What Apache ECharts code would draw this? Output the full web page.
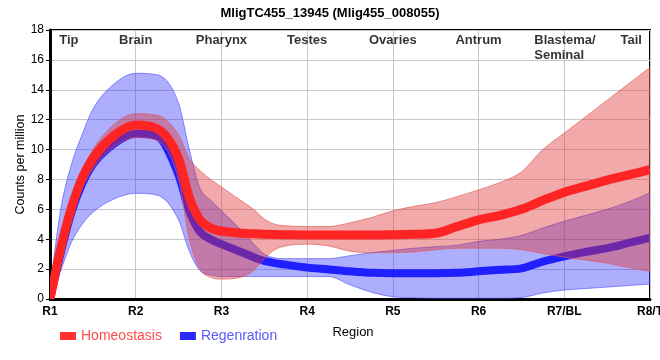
<!DOCTYPE html>
<html><head><meta charset="utf-8">
<script src="https://cdn.jsdelivr.net/npm/echarts/dist/echarts.min.js"></script>
<style>html,body{margin:0;padding:0;background:#fff}#c{width:660px;height:360px}</style>
</head><body><div id="c"></div>
<script>
// ---------------- data ----------------
const chartTitle = 'MligTC455_13945 (Mlig455_008055)';
const xLabels = ['R1', 'R2', 'R3', 'R4', 'R5', 'R6', 'R7/BL', 'R8/T'];
const positions = [1, 1.125, 1.25, 1.375, 1.5, 1.75, 2, 2.25, 2.5, 2.625, 2.75, 2.875, 3, 3.25, 3.375, 3.5, 3.625, 3.75, 4, 4.25, 4.5, 4.75, 5, 5.25, 5.5, 5.75, 6, 6.25, 6.5, 6.75, 7, 7.25, 7.5, 7.75, 8];
const homeostasis = [0, 3.4, 6.1, 8.1, 9.4, 10.95, 11.65, 11.4, 9.4, 6.8, 5.3, 4.75, 4.55, 4.4, 4.36, 4.33, 4.31, 4.3, 4.28, 4.28, 4.28, 4.28, 4.3, 4.33, 4.4, 4.85, 5.3, 5.6, 6.0, 6.6, 7.15, 7.55, 7.95, 8.3, 8.65];
const homeostasisUpper = [0.2, 3.7, 6.5, 8.6, 10.0, 11.7, 12.4, 12.3, 11.0, 9.4, 8.6, 8.0, 7.5, 6.5, 6.0, 5.35, 5.0, 4.9, 4.85, 4.85, 5.1, 5.45, 5.9, 6.2, 6.45, 6.85, 7.3, 7.8, 8.5, 10.0, 11.1, 12.2, 13.3, 14.4, 15.5];
const homeostasisLower = [0, 2.9, 5.5, 7.4, 8.7, 10.2, 10.8, 10.6, 8.0, 4.0, 2.0, 1.45, 1.33, 1.5, 1.9, 2.7, 3.3, 3.55, 3.67, 3.55, 3.2, 3.1, 3.1, 3.15, 3.3, 3.4, 3.4, 3.4, 3.3, 3.05, 2.8, 2.6, 2.4, 2.1, 1.85];
const regeneration = [0, 3.1, 5.8, 7.7, 9.0, 10.4, 11.05, 10.9, 8.3, 5.9, 4.5, 4.0, 3.67, 3.1, 2.8, 2.55, 2.4, 2.3, 2.1, 1.98, 1.85, 1.75, 1.72, 1.72, 1.72, 1.75, 1.85, 1.95, 2.05, 2.5, 2.85, 3.15, 3.4, 3.75, 4.1];
const regenerationUpper = [0.7, 6.0, 9.0, 11.0, 12.7, 14.4, 15.1, 15.0, 13.1, 10.0, 7.4, 6.6, 5.9, 4.5, 3.7, 3.0, 2.75, 2.7, 2.7, 2.7, 2.9, 3.1, 3.25, 3.4, 3.5, 3.6, 3.85, 4.0, 4.25, 4.75, 5.2, 5.6, 6.0, 6.5, 7.1];
const regenerationLower = [0, 1.9, 3.8, 5.0, 5.8, 6.7, 7.07, 6.95, 5.3, 3.2, 1.9, 1.6, 1.5, 1.5, 1.5, 1.5, 1.5, 1.5, 1.5, 1.5, 0.95, 0.45, 0.15, 0.08, 0.05, 0.05, 0.05, 0.05, 0.1, 0.4, 0.6, 0.7, 0.8, 0.9, 1.0];
const regionNames = ['Tip', 'Brain', 'Pharynx', 'Testes', 'Ovaries', 'Antrum', 'Blastema/\nSeminal', 'Tail'];
const regionPos = [1.22, 2, 3, 4, 5, 6, 6.65, 7.78];
const regionAlign = ['center', 'center', 'center', 'center', 'center', 'center', 'left', 'center'];
const regionLabelY = 17.8;
const dividerPos = 7.5;
const seriesNames = ['Homeostasis', 'Regenration'];

// ---------------- drawing ----------------
const FONT = "'Liberation Sans', Arial, sans-serif";

// monotone cubic (Fritsch-Carlson) bezier segments through pixel points
function segments(pts) {
  const n = pts.length, s = [], t = new Array(n);
  for (let i = 0; i < n - 1; i++) s.push((pts[i + 1][1] - pts[i][1]) / (pts[i + 1][0] - pts[i][0]));
  t[0] = s[0]; t[n - 1] = s[n - 2];
  for (let i = 1; i < n - 1; i++) t[i] = (s[i - 1] * s[i] <= 0) ? 0 : (s[i - 1] + s[i]) / 2;
  for (let i = 0; i < n - 1; i++) {
    if (s[i] === 0) { t[i] = 0; t[i + 1] = 0; continue; }
    const a = t[i] / s[i], b = t[i + 1] / s[i], q = a * a + b * b;
    if (q > 9) { const k = 3 / Math.sqrt(q); t[i] = k * a * s[i]; t[i + 1] = k * b * s[i]; }
  }
  const out = [];
  for (let i = 0; i < n - 1; i++) {
    const h = pts[i + 1][0] - pts[i][0];
    out.push([[pts[i][0] + h / 3, pts[i][1] + t[i] * h / 3], [pts[i + 1][0] - h / 3, pts[i + 1][1] - t[i + 1] * h / 3], pts[i + 1]]);
  }
  return out;
}
function curvePath(pts) {
  let d = 'M' + pts[0][0] + ',' + pts[0][1];
  segments(pts).forEach(g => { d += 'C' + g[0][0] + ',' + g[0][1] + ' ' + g[1][0] + ',' + g[1][1] + ' ' + g[2][0] + ',' + g[2][1]; });
  return d;
}
function bandRender(lower, upper, fill, stroke) {
  return function (params, api) {
    const up = positions.map((x, i) => api.coord([x, upper[i]]));
    const lo = positions.map((x, i) => api.coord([x, lower[i]]));
    const sl = segments(lo);
    let d = curvePath(up);
    const n = lo.length;
    d += 'L' + lo[n - 1][0] + ',' + lo[n - 1][1];
    for (let i = sl.length - 1; i >= 0; i--) {
      const g = sl[i], p = lo[i];
      d += 'C' + g[1][0] + ',' + g[1][1] + ' ' + g[0][0] + ',' + g[0][1] + ' ' + p[0] + ',' + p[1];
    }
    d += 'Z';
    return { type: 'path', shape: { pathData: d }, style: { fill: fill, stroke: stroke, lineWidth: 1 } };
  };
}
function lineRender(values, color, width) {
  return function (params, api) {
    const pts = positions.map((x, i) => api.coord([x, values[i]]));
    return { type: 'path', shape: { pathData: curvePath(pts) }, style: { fill: 'none', stroke: color, lineWidth: width } };
  };
}

const chart = echarts.init(document.getElementById('c'), null, { renderer: 'canvas' });
chart.setOption({
  animation: false,
  backgroundColor: '#fff',
  textStyle: { fontFamily: FONT },
  title: { text: chartTitle, left: 'center', top: 2, textStyle: { fontSize: 13, fontWeight: 'bold', color: '#000', fontFamily: FONT } },
  legend: {
    left: 55, top: 324, icon: 'rect', itemWidth: 16, itemHeight: 8, itemGap: 18,
    textStyle: { fontSize: 14, fontFamily: FONT },
    data: [
      { name: seriesNames[0], itemStyle: { color: '#ff3333' }, textStyle: { color: '#ff4d4d' } },
      { name: seriesNames[1], itemStyle: { color: '#2a2aff' }, textStyle: { color: '#5a5aff' } }
    ]
  },
  grid: { left: 50, right: 10, top: 30, bottom: 61, show: true, borderColor: '#000', borderWidth: 2,
    containLabel: false, outerBoundsMode: 'none' },
  xAxis: {
    type: 'value', min: 1, max: 8, interval: 1,
    name: 'Region', nameLocation: 'middle', nameGap: 27, nameMoveOverlap: false,
    nameTextStyle: { fontSize: 13, color: '#000', fontFamily: FONT, padding: [0, 0, 0, 6] },
    axisLine: { show: true, lineStyle: { color: '#000', width: 3 } },
    axisTick: { show: false },
    axisLabel: { formatter: v => xLabels[Math.round(v) - 1] || '', fontSize: 12, fontWeight: 'bold', color: '#000', margin: 7, fontFamily: FONT },
    splitLine: { show: true, lineStyle: { color: '#c8c8c8', width: 1 } }
  },
  yAxis: {
    type: 'value', min: 0, max: 18, interval: 2,
    name: 'Counts per million', nameLocation: 'middle', nameRotate: 90, nameGap: 23, nameMoveOverlap: false,
    nameTextStyle: { fontSize: 12.5, color: '#000', fontFamily: FONT },
    axisLine: { show: true, lineStyle: { color: '#000', width: 3 } },
    axisTick: { show: true, length: 4, lineStyle: { color: '#000', width: 1 } },
    axisLabel: { fontSize: 12, color: '#000', margin: 6, fontFamily: FONT },
    splitLine: { show: true, lineStyle: { color: '#c8c8c8', width: 1 } }
  },
  series: [
    { type: 'custom', name: 'regenBand', coordinateSystem: 'cartesian2d', silent: true, clip: true, data: [[1, 0]],
      renderItem: bandRender(regenerationLower, regenerationUpper, 'rgba(30,30,255,0.36)', 'rgba(70,70,255,0.6)') },
    { type: 'custom', name: seriesNames[1], coordinateSystem: 'cartesian2d', silent: true, clip: true, data: [[1, 0]],
      itemStyle: { color: '#2a2aff' }, renderItem: lineRender(regeneration, '#2020ff', 8) },
    { type: 'custom', name: 'homeoBand', coordinateSystem: 'cartesian2d', silent: true, clip: true, data: [[1, 0]],
      renderItem: bandRender(homeostasisLower, homeostasisUpper, 'rgba(222,50,50,0.42)', 'rgba(225,90,90,0.65)') },
    { type: 'custom', name: seriesNames[0], coordinateSystem: 'cartesian2d', silent: true, clip: true, data: [[1, 0]],
      itemStyle: { color: '#ff3333' }, renderItem: lineRender(homeostasis, '#ff2424', 9) },
    { type: 'line', name: 'divider', data: [], silent: true,
      markLine: { silent: true, symbol: 'none', label: { show: false },
        lineStyle: { color: '#000', type: [6, 4], width: 2.5 },
        data: [[{ coord: [dividerPos, -0.45] }, { coord: [dividerPos, 18] }]] } },
    { type: 'scatter', name: 'regions', symbolSize: 0, silent: true,
      data: regionPos.map((x, i) => ({ value: [x, regionLabelY], label: { align: regionAlign[i] } })),
      label: { show: true, position: [0, 0], verticalAlign: 'top', align: 'center',
        formatter: p => regionNames[p.dataIndex], color: '#000', fontWeight: 'bold', fontSize: 13, lineHeight: 15, fontFamily: FONT } }
  ]
});
</script></body></html>
